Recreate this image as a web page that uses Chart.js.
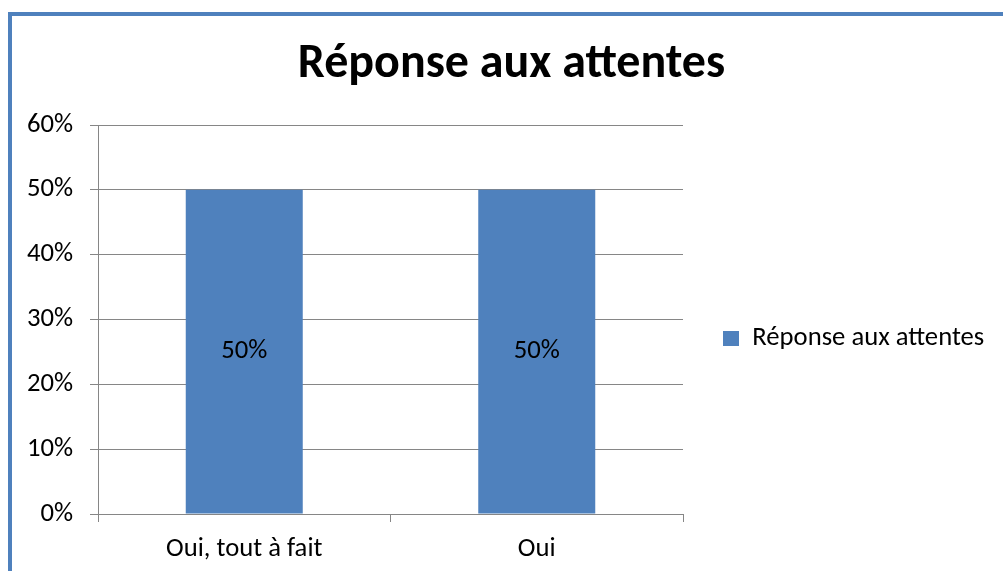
<!DOCTYPE html>
<html><head><meta charset="utf-8">
<script src="https://cdn.jsdelivr.net/npm/chart.js@4/dist/chart.umd.min.js"></script>
<style>
html,body{margin:0;padding:0;background:#fff;overflow:hidden}
#wrap{position:absolute;left:0;top:0;width:1003px;height:571px;overflow:hidden}
#frame{position:absolute;left:8px;top:12px;width:1100px;height:700px;border-left:4px solid #4f81bd;border-top:4px solid #4f81bd;box-sizing:border-box}
canvas{position:absolute;left:0;top:0}
</style></head><body>
<div id="wrap"><div id="frame"></div><canvas id="c" width="1003" height="571"></canvas></div>
<script>
const categories = ["Oui, tout à fait", "Oui"];
const values = [0.5, 0.5];
const seriesName = "Réponse aux attentes";
const titleText = "Réponse aux attentes";
const yTicks = [0, 0.1, 0.2, 0.3, 0.4, 0.5, 0.6];

const FONT = "Carlito, Lato, 'Liberation Sans', sans-serif";
const BLUE = "#4f81bd";
const GRID = "#868686";
const FS = 26.67;

const pct = v => Math.round(v * 100) + "%";

const barLabels = {
  id: "barLabels",
  afterDatasetsDraw(chart) {
    const ctx = chart.ctx;
    const meta = chart.getDatasetMeta(0);
    ctx.save();
    ctx.font = FS + "px " + FONT;
    ctx.fillStyle = "#000";
    ctx.textAlign = "center";
    ctx.textBaseline = "middle";
    meta.data.forEach((bar, i) => {
      const v = chart.data.datasets[0].data[i];
      ctx.fillText(pct(v), bar.x, (bar.y + bar.base) / 2);
    });
    ctx.restore();
  }
};

const legendWidth = {
  id: "legendWidth",
  beforeLayout(chart) {
    const lg = chart.legend;
    if (lg && !lg._patched) {
      const orig = lg.fit;
      lg.fit = function () { orig.call(this); this.width = 320; };
      lg._patched = true;
    }
  }
};

new Chart(document.getElementById("c"), {
  type: "bar",
  data: {
    labels: categories,
    datasets: [{
      label: seriesName,
      data: values,
      backgroundColor: BLUE,
      borderWidth: 0,
      barPercentage: 0.4,
      categoryPercentage: 1.0
    }]
  },
  options: {
    responsive: false,
    animation: false,
    devicePixelRatio: 1,
    layout: { padding: { left: 20, right: 0, top: 0, bottom: 0 } },
    plugins: {
      title: {
        display: true,
        text: titleText,
        color: "#000",
        font: { family: FONT, size: 48, weight: "bold", lineHeight: 1.2 },
        padding: { top: 36, bottom: 31.4 }
      },
      legend: {
        display: true,
        position: "right",
        title: { display: true, text: "", font: { size: 10, lineHeight: 1 }, padding: { top: 96, bottom: 0 } },
        labels: {
          color: "#000",
          font: { family: FONT, size: FS },
          boxWidth: 16,
          boxHeight: 15,
          padding: 40
        }
      },
      tooltip: { enabled: false }
    },
    scales: {
      x: {
        afterFit(s) { s.height = 57; },
        grid: { display: true, drawOnChartArea: false, drawTicks: true, tickLength: 8, color: GRID, offset: true },
        border: { display: true, color: GRID, width: 1 },
        ticks: { color: "#000", font: { family: FONT, size: FS }, padding: 11, maxRotation: 0 }
      },
      y: {
        min: 0,
        max: 0.6,
        afterFit(s) { s.width = 78; },
        afterBuildTicks(s) { s.ticks = yTicks.map(v => ({ value: v })); },
        grid: { display: true, drawOnChartArea: true, drawTicks: true, tickLength: 8, color: GRID },
        border: { display: true, color: GRID, width: 1 },
        ticks: { color: "#000", font: { family: FONT, size: FS }, padding: 17, callback: v => pct(v) }
      }
    }
  },
  plugins: [barLabels, legendWidth]
});
</script>
</body></html>
